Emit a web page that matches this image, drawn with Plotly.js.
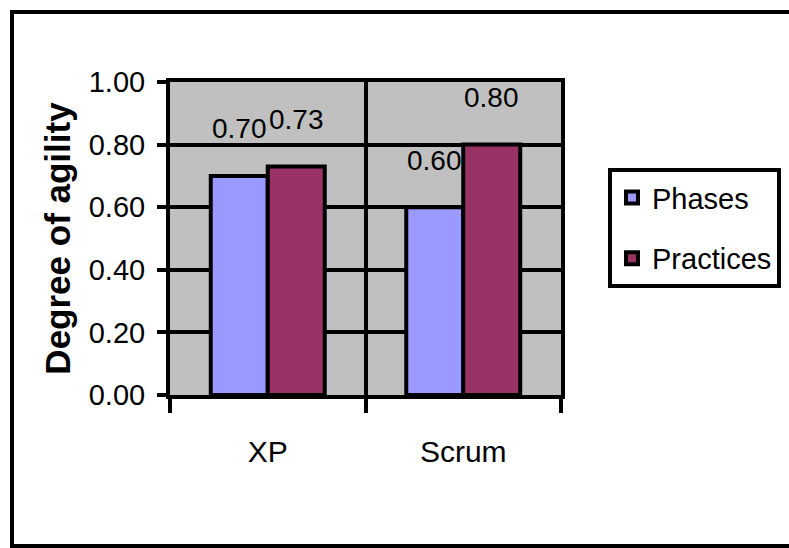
<!DOCTYPE html>
<html>
<head>
<meta charset="utf-8">
<script src="https://cdn.plot.ly/plotly-3.0.1.min.js"></script>
<style>html,body{margin:0;padding:0;background:#fff;}#chart{width:789px;height:548px;}</style>
</head>
<body>
<div id="chart"></div>
<script>
var categories = ["XP", "Scrum"];
var seriesNames = ["Phases", "Practices"];
var phases = [0.70, 0.60];
var practices = [0.73, 0.80];
var seriesColors = ["#9999FF", "#993366"];
var yTickVals = [0, 0.2, 0.4, 0.6, 0.8, 1.0];

var FONT = "Liberation Sans, Arial, sans-serif";
var allSeries = [phases, practices];

var traces = allSeries.map(function (vals, i) {
  return {
    type: "bar",
    name: seriesNames[i],
    x: categories,
    y: vals,
    legendgroup: "g" + i,
    marker: { color: seriesColors[i], line: { color: "#000", width: 4 } },
    hoverinfo: "skip"
  };
});

var annotations = [];
var offsets = [-28.5, 28.5];
categories.forEach(function (c, ci) {
  allSeries.forEach(function (vals, si) {
    annotations.push({
      x: c, y: vals[ci], xref: "x", yref: "y",
      text: vals[ci].toFixed(2),
      showarrow: false,
      xshift: offsets[si], yshift: 47,
      yanchor: "middle",
      font: { family: FONT, size: 28, color: "#000" },
      borderpad: 0
    });
  });
});

var layout = {
  width: 789, height: 548,
  margin: { l: 170, r: 228, t: 82, b: 153, autoexpand: false },
  paper_bgcolor: "#fff",
  plot_bgcolor: "#C0C0C0",
  barmode: "group",
  bargap: 0.417,
  bargroupgap: 0,
  showlegend: true,
  font: { family: FONT, color: "#000" },
  xaxis: {
    type: "category",
    tickson: "boundaries",
    ticks: "outside", ticklen: 14, tickwidth: 4, tickcolor: "#000",
    showgrid: true, gridcolor: "#000", gridwidth: 4,
    showline: true, linecolor: "#000", linewidth: 4, mirror: true,
    tickfont: { family: FONT, size: 30, color: "#000" },
    ticklabelstandoff: 27,
    automargin: false,
    fixedrange: true
  },
  yaxis: {
    range: [0, 1],
    tickvals: yTickVals,
    tickformat: ".2f",
    ticks: "outside", ticklen: 9, tickwidth: 4, tickcolor: "#000",
    showgrid: true, gridcolor: "#000", gridwidth: 4,
    zeroline: false,
    showline: true, linecolor: "#000", linewidth: 4, mirror: true,
    tickfont: { family: FONT, size: 29, color: "#000" },
    ticklabelstandoff: 6,
    title: { text: "<b>Degree of agility</b>", font: { family: FONT, size: 35, color: "#000" }, standoff: 8 },
    automargin: false,
    fixedrange: true
  },
  legend: {
    x: (608 - 170) / 391, y: 0.725, xanchor: "left", yanchor: "top",
    bgcolor: "#fff", bordercolor: "#000", borderwidth: 4,
    font: { family: FONT, size: 29, color: "#000" },
    tracegroupgap: 20,
    traceorder: "grouped",
    itemwidth: 30,
    itemclick: false, itemdoubleclick: false
  },
  annotations: annotations,
  shapes: [{
    type: "rect", xref: "paper", yref: "paper",
    x0: (12 - 170) / 391, x1: (795 - 170) / 391,
    y0: (395 - 546) / 313, y1: (395 - 12) / 313,
    line: { color: "#000", width: 4 }, fillcolor: "rgba(0,0,0,0)", layer: "below"
  }]
};

Plotly.newPlot("chart", traces, layout, { displayModeBar: false, staticPlot: true });
</script>
</body>
</html>
